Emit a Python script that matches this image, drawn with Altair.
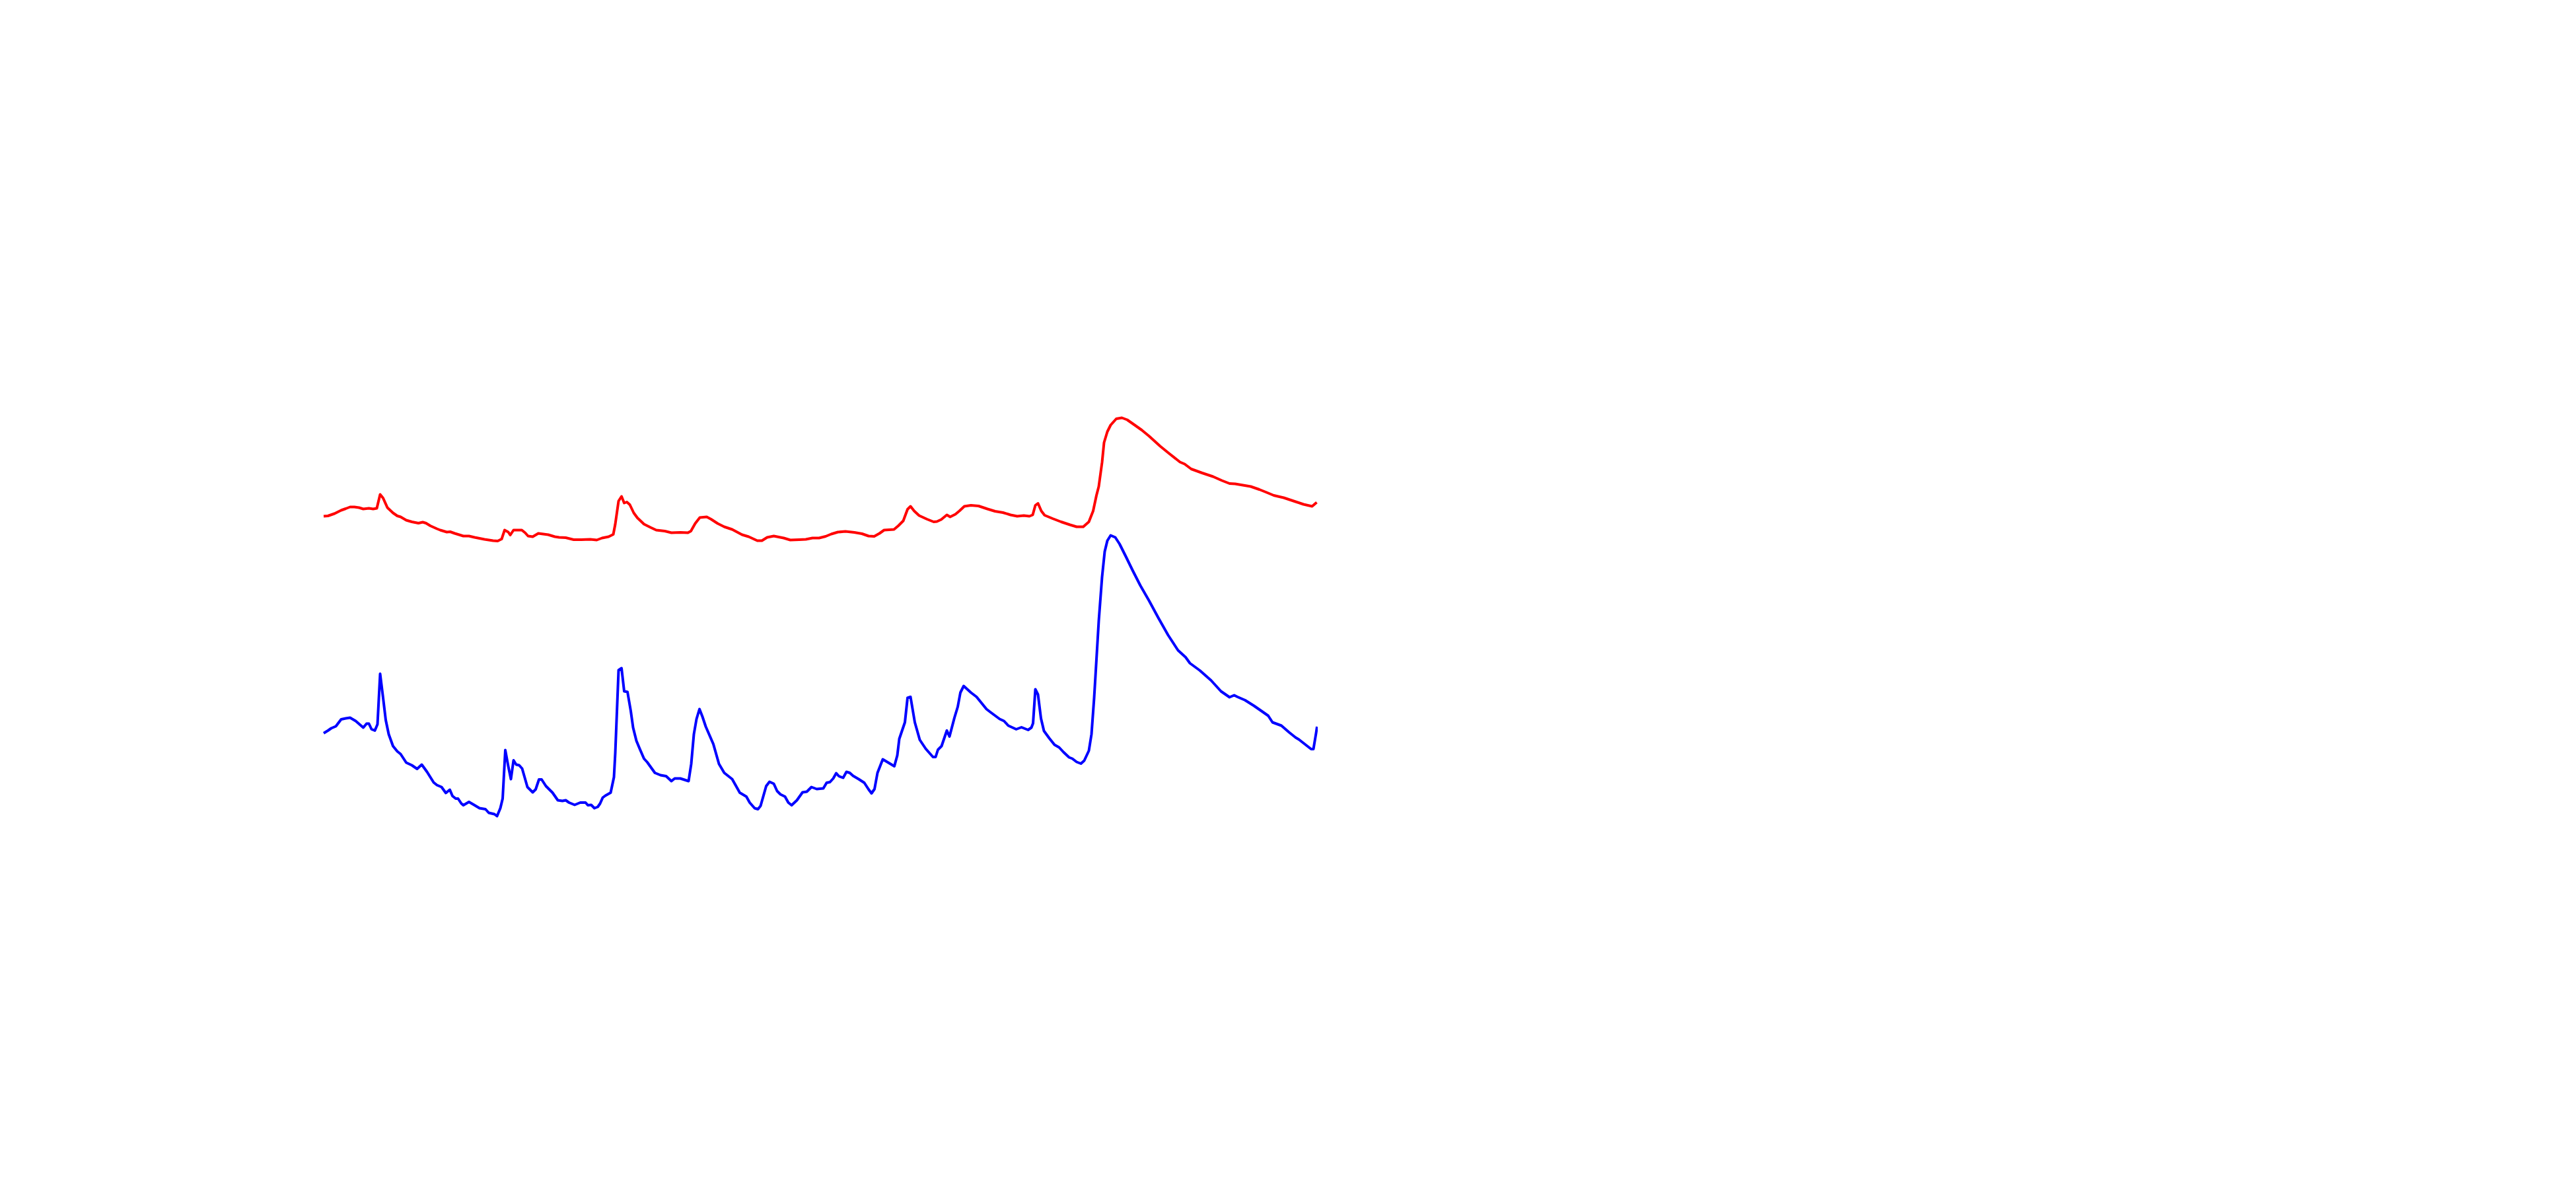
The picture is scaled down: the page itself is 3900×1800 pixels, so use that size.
import altair as alt
import pandas as pd

# Red series (upper)
red_t = [0, 1.3, 3.3, 5.3, 6.7, 8.0, 9.3, 10.7, 12.0, 13.7, 15.0, 16.1, 17.1, 18.0, 19.3, 21.0, 22.3, 23.3,
         25.0, 26.7, 28.7, 30.0, 31.0, 32.3, 34.3, 35.3, 37.3, 38.3, 39.7, 42.3, 44.0, 45.7, 48.7, 51.3, 52.7,
         53.9, 54.8, 55.9, 56.5, 57.5, 60.0, 61.0, 61.9, 63.3, 65.0, 68.0, 70.0, 71.3, 73.3, 75.7, 78.0,
         80.7, 82.7, 84.3, 86.3, 87.7, 88.3, 89.3, 90.2, 91.0, 91.8, 92.7, 93.9, 95.0, 97.0, 99.0, 100.7,
         103.3, 105.3, 108.0, 110.3, 111.2, 112.5, 113.9, 116.0, 117.3, 119.3, 121.3, 123.7, 126.7, 128.7,
         131.3, 132.7, 134.3, 136.3, 139.3, 141.3, 144.0, 146.0, 148.0, 150.0, 152.0, 153.7, 155.7, 158.0,
         160.7, 163.0, 165.0, 166.7, 168.3, 169.7, 172.7, 174.0, 175.5, 176.8, 177.7, 178.8, 180.3, 182.7,
         184.7, 185.7, 187.0, 188.7, 189.7, 191.3, 192.5, 194.0, 196.0, 198.3, 201.0, 203.3, 205.7, 208.0,
         210.0, 212.0, 213.7, 214.7, 215.5, 216.3, 217.3, 218.3, 220.7, 223.3, 226.0, 228.0, 230.0, 231.7,
         233.0, 234.0, 234.7, 235.7, 236.3, 237.3, 238.3, 240.0, 241.7, 243.3, 245.3, 247.7, 250.0, 253.3,
         256.0, 259.3, 260.7, 262.7, 266.0, 269.3, 272.0, 274.3, 276.0, 280.7, 283.3, 285.3, 287.7, 290.7,
         294.0, 296.7, 299.3, 300.7]
red_v = [95.7, 95.8, 96.5, 97.5, 98.0, 98.5, 98.5, 98.3, 97.9, 98.1, 97.9, 98.1, 102.3, 101.2, 98.3, 96.7, 95.8, 95.5,
         94.5, 94.0, 93.6, 93.9, 93.6, 92.8, 91.9, 91.5, 90.9, 91.0, 90.5, 89.7, 89.7, 89.3, 88.7, 88.3, 88.2,
         88.8, 91.5, 90.9, 90.0, 91.5, 91.5, 90.7, 89.7, 89.5, 90.5, 90.1, 89.5, 89.3, 89.2, 88.6, 88.6,
         88.7, 88.5, 89.1, 89.5, 90.2, 93.3, 100.3, 101.7, 99.7, 100.0, 99.2, 96.7, 95.2, 93.3, 92.3, 91.5,
         91.2, 90.7, 90.8, 90.7, 91.2, 93.5, 95.3, 95.5, 94.8, 93.5, 92.5, 91.7, 90.1, 89.5,
         88.3, 88.3, 89.3, 89.7, 89.1, 88.5, 88.6, 88.7, 89.1, 89.1, 89.6, 90.3, 90.9, 91.1,
         90.8, 90.4, 89.7, 89.6, 90.5, 91.5, 91.7, 92.8, 94.3, 97.8, 98.7, 97.3, 95.9, 94.8,
         94.0, 94.1, 94.7, 96.1, 95.5, 96.3, 97.3, 98.7, 99.0, 98.8, 97.9, 97.2, 96.8, 96.1,
         95.7, 95.9, 95.7, 96.1, 99.0, 99.6, 97.3, 96.0, 95.0, 94.0, 93.1, 92.5, 92.5, 94.0,
         97.3, 102.0, 104.7, 112.0, 118.0, 121.3, 123.3, 125.2, 125.5, 124.9, 123.5, 121.8, 119.9, 116.9,
         114.7, 112.1, 111.5, 110.0, 108.8, 107.7, 106.5, 105.6, 105.5, 104.7, 103.8, 103.0, 102.0, 101.3,
         100.2, 99.3, 98.7, 99.9]

# Blue series (lower)
blue_t = [0, 1.3, 2.3, 3.7, 5.3, 6.7, 8.0, 9.7, 12.0, 13.0, 13.7, 14.5, 15.5, 16.3, 17.1, 18.0, 18.8, 19.7,
          21.0, 22.3, 23.3, 25.0, 26.7, 28.3, 29.7, 31.3, 33.3, 34.3, 35.7, 37.0, 38.2, 39.0, 40.0, 40.7,
          41.7, 42.3, 44.0, 45.7, 47.2, 49.0, 50.0, 51.7, 52.5, 53.5, 54.2, 55.0, 55.9, 56.7, 57.5, 58.3,
          59.2, 60.1, 61.7, 63.3, 64.2, 65.2, 66.0, 67.3, 69.3, 70.9, 72.3, 73.3, 74.3, 76.0, 77.7, 79.3,
          80.0, 81.0, 82.0, 83.0, 83.7, 84.5, 85.3, 86.9, 87.9, 88.3, 89.3, 90.2, 91.0, 92.0, 93.0, 93.7,
          94.7, 95.7, 97.0, 98.0, 99.0, 100.3, 102.0, 103.7, 105.3, 106.3, 108.0, 110.5, 111.3, 112.1, 112.9,
          113.8, 114.7, 115.7, 118.0, 119.7, 121.3, 123.7, 126.0, 128.0, 129.0, 130.5, 131.5, 132.3, 134.0,
          135.0, 136.3, 137.3, 138.3, 139.7, 140.7, 141.7, 143.3, 145.0, 146.3, 147.7, 149.3, 151.3, 152.3,
          153.3, 154.3, 155.2, 156.0, 157.3, 158.3, 159.3, 160.3, 162.0, 163.7, 165.0, 165.9, 166.8, 167.7,
          169.3, 172.8, 173.7, 174.3, 176.0, 176.8, 177.7, 179.0, 180.5, 182.3, 184.5, 185.3, 186.0, 187.1,
          188.7, 189.5, 191.0, 192.0, 192.8, 193.8, 196.0, 197.7, 200.7, 202.0, 204.7, 206.0, 207.3, 209.7,
          211.3, 213.3, 214.3, 214.8, 215.5, 216.3, 217.2, 218.1, 219.7, 221.3, 222.7, 224.0, 225.7, 226.7,
          228.0, 229.3, 230.3, 231.7, 232.5, 233.3, 233.7, 234.7, 235.7, 236.5, 237.3, 238.3, 239.7, 241.0,
          243.0, 245.0, 247.3, 250.0, 252.7, 255.7, 258.7, 261.0, 262.3, 265.3, 268.7, 271.7, 274.3, 275.7,
          276.7, 279.0, 281.7, 284.0, 286.0, 287.3, 290.0, 292.3, 294.3, 295.3, 299.0, 299.7, 300.5, 300.8]
blue_v = [30.0, 30.8, 31.5, 32.1, 34.2, 34.5, 34.7, 33.7, 31.7, 32.9, 32.9, 31.2, 30.8, 32.7, 48.0, 40.7, 34.0, 29.7,
          26.1, 24.5, 23.7, 21.1, 20.3, 19.2, 20.5, 18.3, 15.1, 14.3, 13.7, 11.9, 12.9, 11.0, 10.2, 10.2,
          8.7, 8.2, 9.2, 8.2, 7.3, 7.0, 5.9, 5.5, 4.9, 7.3, 10.2, 24.9, 20.0, 16.1, 21.8, 20.5,
          20.3, 19.3, 13.7, 12.1, 13.0, 16.0, 16.0, 14.0, 12.0, 9.7, 9.5, 9.7, 9.0, 8.3, 9.0, 9.0,
          8.2, 8.3, 7.3, 7.7, 8.7, 10.5, 11.1, 12.0, 16.7, 24.0, 49.1, 49.7, 42.7, 42.5, 36.7, 31.7,
          27.7, 25.3, 22.3, 21.2, 19.8, 18.0, 17.3, 17.0, 15.5, 16.3, 16.3, 15.5, 20.7, 29.7, 34.3,
          37.3, 35.0, 32.0, 26.7, 20.7, 18.0, 16.1, 12.0, 10.8, 9.0, 7.3, 7.0, 8.0, 14.0,
          15.3, 14.7, 12.5, 11.5, 10.8, 9.0, 8.2, 9.7, 12.1, 12.3, 13.7, 13.1, 13.3, 15.0,
          15.2, 16.3, 17.9, 17.0, 16.5, 18.3, 18.0, 17.1, 16.1, 15.0, 13.0, 11.8, 13.1, 18.0,
          22.1, 20.0, 23.3, 28.3, 33.3, 40.7, 41.0, 33.3, 28.0, 25.3, 22.8, 22.8, 25.0, 26.1,
          30.8, 29.0, 34.7, 38.0, 42.3, 44.3, 42.3, 41.0, 37.3, 36.3, 34.3, 33.7, 32.3, 31.2,
          31.8, 31.0, 31.7, 33.0, 43.3, 41.7, 34.5, 30.7, 28.5, 26.5, 25.7, 24.3, 22.7, 22.3,
          21.3, 20.8, 21.7, 24.7, 29.7, 40.7, 47.3, 64.0, 77.3, 85.0, 88.3, 89.9, 89.3, 87.3,
          83.3, 79.2, 74.7, 70.0, 65.0, 59.7, 55.1, 53.0, 51.2, 49.0, 46.0, 42.7, 40.9, 41.5,
          41.0, 40.0, 38.3, 36.7, 35.3, 33.3, 32.3, 30.3, 28.7, 28.1, 25.2, 25.2, 30.0, 32.0]

series_names = ["red", "blue"]
series_colors = ["#ff0000", "#0000ff"]

df = pd.concat([
    pd.DataFrame({"t": red_t, "v": red_v, "series": series_names[0]}),
    pd.DataFrame({"t": blue_t, "v": blue_v, "series": series_names[1]}),
], ignore_index=True)

chart = alt.Chart(df).mark_line(strokeWidth=4, strokeJoin="round").encode(
    x=alt.X("t:Q", axis=None, scale=alt.Scale(domain=[0, 301], nice=False, zero=False)),
    y=alt.Y("v:Q", axis=None, scale=alt.Scale(domain=[0, 140], nice=False)),
    color=alt.Color("series:N", legend=None,
                    scale=alt.Scale(domain=series_names, range=series_colors)),
    detail="series:N",
).properties(
    width=1505,
    height=700,
    autosize=alt.AutoSizeParams(type="none"),
    padding={"left": 482, "top": 552, "right": 0, "bottom": 0},
    background="white",
).configure_view(strokeWidth=0)

chart.save("out.html", embed_options={"renderer": "svg", "actions": False})
